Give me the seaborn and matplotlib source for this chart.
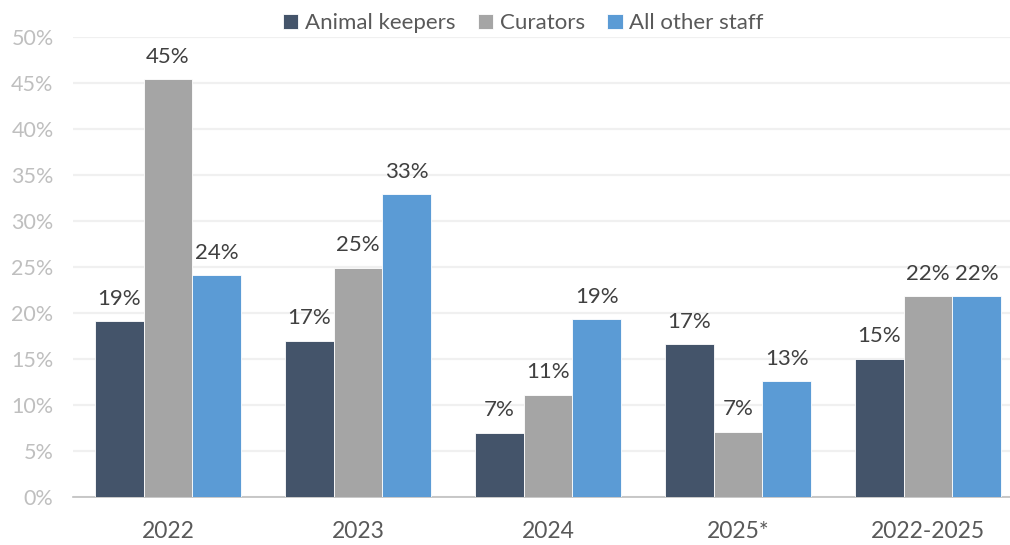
import matplotlib
matplotlib.use("Agg")
import matplotlib.pyplot as plt
import seaborn as sns
import pandas as pd

# Share of staff by year and role (%)
periods = ["2022", "2023", "2024", "2025*", "2022-2025"]
roles = ["Animal keepers", "Curators", "All other staff"]
animal_keepers = [19.1, 17.0, 7.0, 16.6, 15.0]
curators = [45.4, 24.9, 11.1, 7.1, 21.8]
all_other_staff = [24.1, 32.9, 19.3, 12.6, 21.8]
y_ticks = [0, 5, 10, 15, 20, 25, 30, 35, 40, 45, 50]

palette = ["#44546A", "#A5A5A5", "#5B9BD5"]

rows = []
for role, vals in zip(roles, [animal_keepers, curators, all_other_staff]):
    for p, v in zip(periods, vals):
        rows.append({"period": p, "role": role, "value": v})
df = pd.DataFrame(rows)

sns.set_theme(style="white")
plt.rcParams["font.family"] = ["Lato", "DejaVu Sans"]

fig = plt.figure(figsize=(10.1, 5.45), dpi=100)
# the plot area runs slightly past the right edge of the canvas
ax = fig.add_axes([73 / 1010, 1 - 497 / 545, (1023 - 73) / 1010, (497 - 37) / 545])

sns.barplot(data=df, x="period", y="value", hue="role", order=periods,
            hue_order=roles, palette=palette, width=0.77, saturation=1,
            edgecolor="white", linewidth=0.6, ax=ax, legend=True, zorder=3)

for cont in ax.containers:
    ax.bar_label(cont, labels=[f"{round(b.get_height()):d}%" for b in cont],
                 padding=9, fontsize=16, color="#404040")

ax.set_ylim(0, 50)
ax.set_xlim(-0.5, len(periods) - 0.5)
ax.set_yticks(y_ticks)
ax.set_yticklabels([f"{t}%" for t in y_ticks])
ax.yaxis.grid(True, color="#F0F0F0", linewidth=1.6, zorder=0)
ax.set_axisbelow(True)
ax.tick_params(axis="y", length=0, pad=14, labelsize=15.5, labelcolor="#BFBFBF")
ax.tick_params(axis="x", length=0, pad=17, labelsize=16.5, labelcolor="#595959")
ax.set_xlabel("")
ax.set_ylabel("")
for s in ["top", "right", "left"]:
    ax.spines[s].set_visible(False)
ax.spines["bottom"].set_color("#BFBFBF")
ax.spines["bottom"].set_linewidth(1.2)

handles, labels = ax.get_legend_handles_labels()
ax.get_legend().remove()
fig.legend(handles, labels, loc="upper center", bbox_to_anchor=(0.518, 1.012),
           ncol=3, frameon=False, fontsize=16, handlelength=0.7,
           handleheight=0.7, handletextpad=0.3, columnspacing=1.0,
           labelcolor="#595959")

fig.savefig("out.png", dpi=100)
